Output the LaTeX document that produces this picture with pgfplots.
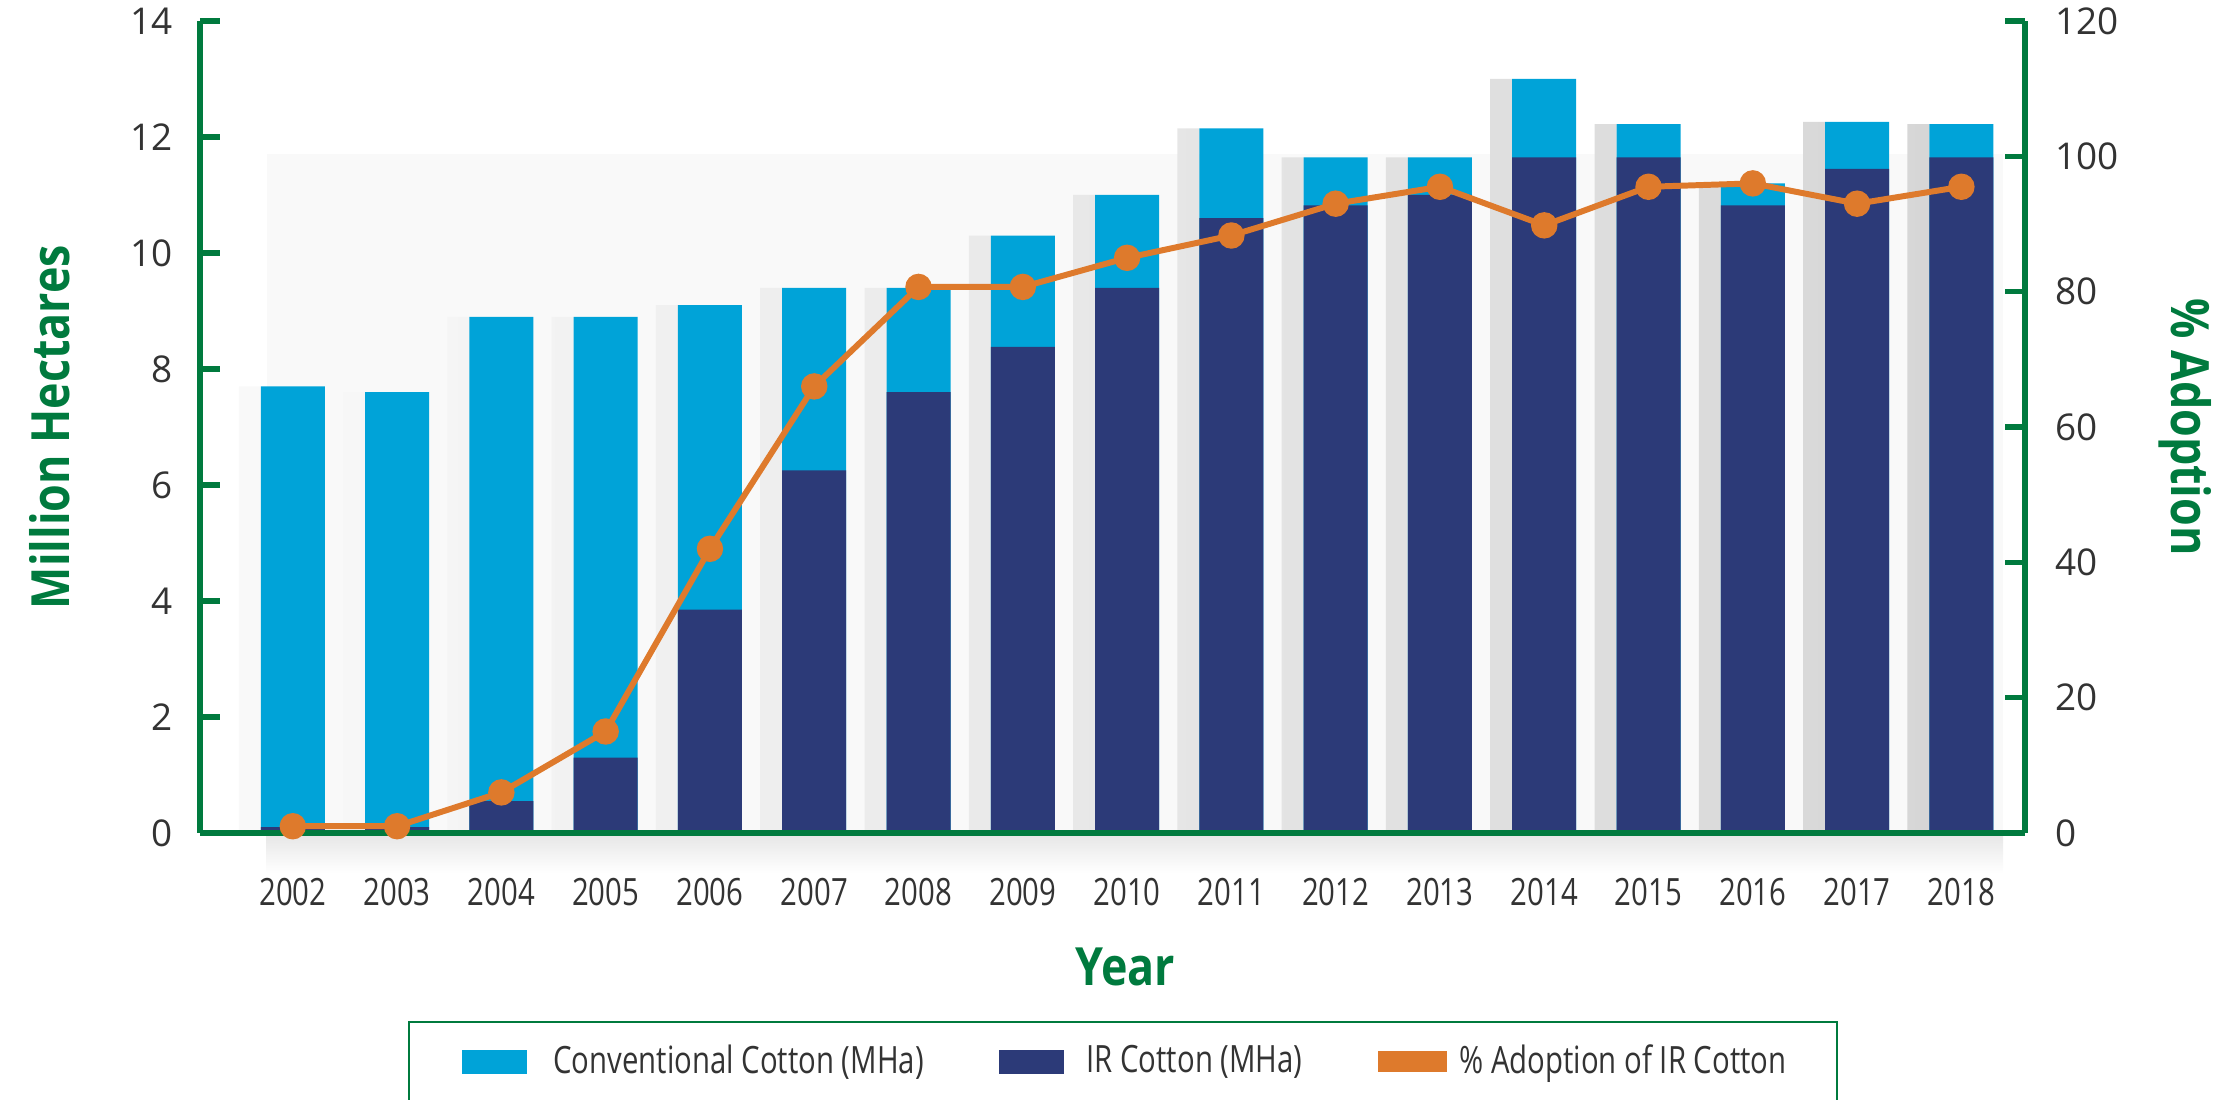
\documentclass[border=0pt]{standalone}
\usepackage{fontspec}
\setmainfont{Open Sans}
\newfontfamily\condfont[FakeStretch=0.78]{Open Sans}
\newfontfamily\titlefont[FakeStretch=0.85]{Open Sans}
\usepackage{pgfplots}
\pgfplotsset{compat=1.18}
\usepackage{pgfplotstable}
\definecolor{cblue}{RGB}{0,163,216}
\definecolor{navy}{RGB}{44,58,120}
\definecolor{corange}{RGB}{222,122,44}
\definecolor{cgreen}{RGB}{0,122,62}
\definecolor{tgray}{RGB}{51,51,51}
\definecolor{bgpanel}{RGB}{249,249,249}

\pgfplotstableread{
x total ir adopt
0 7.70 0.10 1.0
1 7.60 0.10 1.0
2 8.90 0.55 6.0
3 8.90 1.30 15.0
4 9.10 3.85 42.0
5 9.40 6.25 66.0
6 9.40 7.60 80.7
7 10.30 8.38 80.7
8 11.00 9.40 85.0
9 12.15 10.60 88.3
10 11.65 10.82 93.0
11 11.65 11.00 95.5
12 13.00 11.65 89.8
13 12.22 11.65 95.5
14 11.20 10.82 96.0
15 12.26 11.45 93.0
16 12.22 11.65 95.5
}\data

\begin{document}
\begin{tikzpicture}
\useasboundingbox (-2.0cm,-2.67cm) rectangle (20.39cm,8.33cm);
\begin{axis}[
  scale only axis, width=18.25cm, height=8.12cm,
  xmin=-0.89, xmax=16.61, ymin=0, ymax=14,
  axis x line*=bottom, axis y line*=left,
  axis line style={cgreen, line width=1.5pt, -},
  ytick={0,2,...,14},
  xtick={0,...,16},
  xticklabels={2002,2003,2004,2005,2006,2007,2008,2009,2010,2011,2012,2013,2014,2015,2016,2017,2018},
  tick align=inside,
  major tick length=0.2cm,
  major y tick style={cgreen, line width=1.5pt},
  major x tick style={draw=none},
  /pgf/number format/assume math mode=true,
  yticklabel style={font=\fontsize{10.5}{12}\selectfont, text=tgray, inner xsep=0pt, xshift=-0.27cm},
  xticklabel style={font=\condfont\fontsize{10.7}{12}\selectfont, text=tgray, yshift=-0.33cm},
  xlabel={Year}, ylabel={Million Hectares},
  every axis x label/.style={at={(axis description cs:0.507,0)}, yshift=-1.34cm, anchor=center, font=\titlefont\bfseries\fontsize{15}{18}\selectfont, text=cgreen},
  every axis y label/.style={at={(axis description cs:0,0.5)}, xshift=-1.5cm, rotate=90, anchor=center, font=\titlefont\bfseries\fontsize{15}{18}\selectfont, text=cgreen},
  clip=false,
]
% faint background panel and shadow under the base line
\fill[bgpanel] (axis cs:-0.25,11.7) rectangle (axis cs:16.4,0);
\shade[top color=black!10, bottom color=white] (axis cs:-0.25,0) rectangle ([yshift=-0.4cm]axis cs:16.4,0);
% soft shadows cast to the left of each bar
\addplot[ybar, bar width=0.22cm, bar shift=-0.43cm, draw=none, left color=bgpanel, right color=black!16] table[x=x, y=total] {\data};
\addplot[ybar, bar width=0.64cm, bar shift=0pt, fill=cblue, draw=none] table[x=x, y=total] {\data};
\addplot[ybar, bar width=0.64cm, bar shift=0pt, fill=navy, draw=none] table[x=x, y=ir] {\data};
\end{axis}
\begin{axis}[
  scale only axis, width=18.25cm, height=8.12cm,
  xmin=-0.89, xmax=16.61, ymin=0, ymax=120,
  hide x axis,
  axis y line*=right,
  axis line style={cgreen, line width=1.5pt, -},
  ytick={0,20,...,120},
  tick align=inside,
  major tick length=0.2cm,
  major y tick style={cgreen, line width=1.5pt},
  /pgf/number format/assume math mode=true,
  yticklabel style={font=\fontsize{10.5}{12}\selectfont, text=tgray, inner xsep=0pt, xshift=0.3cm},
  ylabel={\% Adoption},
  every axis y label/.style={at={(axis description cs:1,0.5)}, xshift=1.6cm, rotate=-90, anchor=center, font=\titlefont\bfseries\fontsize{15}{18}\selectfont, text=cgreen},
  clip=false,
  legend columns=3,
  legend style={at={(0.143,-0.282)}, anchor=west, draw=none, fill=none, inner sep=0pt,
    font=\condfont\fontsize{10.7}{12}\selectfont, text=tgray,
    /tikz/every even column/.append style={column sep=0.68cm}},
  legend cell align=left,
]
% redraw base line over the shadow
\draw[cgreen, line width=1.5pt] (rel axis cs:0,0) -- (rel axis cs:1,0);
\addlegendimage{legend image code/.code={\fill[cblue] (0cm,-0.115cm) rectangle (0.64cm,0.115cm); \path[draw=none, fill=none] (0.64cm,0) -- (0.84cm,0);}}
\addlegendentry{Conventional Cotton (MHa)}
\addlegendimage{legend image code/.code={\fill[navy] (0cm,-0.115cm) rectangle (0.64cm,0.115cm); \path[draw=none, fill=none] (0.64cm,0) -- (0.80cm,0);}}
\addlegendentry{IR Cotton (MHa)}
\addplot[corange, line width=1.7pt, mark=*, mark size=2.9pt, mark options={fill=corange, draw=corange},
  legend image code/.code={\fill[corange] (0cm,-0.075cm) rectangle (0.64cm,0.075cm); \path[draw=none, fill=none] (0.64cm,0) -- (0.72cm,0);}] table[x=x, y=adopt] {\data};
\addlegendentry{\% Adoption of IR Cotton}
\draw[cgreen, line width=0.8pt] (rel axis cs:0.1145,-0.2328) rectangle (rel axis cs:0.897,-0.37);
\end{axis}
\end{tikzpicture}
\end{document}
